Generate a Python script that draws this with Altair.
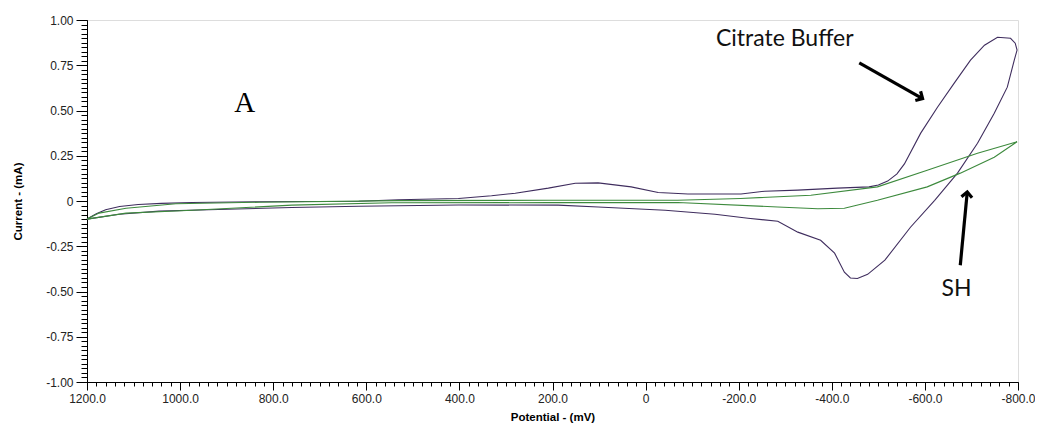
import altair as alt
import pandas as pd

# Citrate Buffer loop (potential mV, current mA), in scan order
cb_mv = [1200, 1180, 1160, 1130, 1090, 1040, 974, 830, 616, 531, 402, 331, 280, 209, 151, 102, 31,
         -27, -91, -205, -256, -327, -412, -480, -500, -520, -540, -556, -591, -627, -663, -698, -728,
         -756, -784, -794, -798, -792, -777, -749, -713, -670, -621, -569, -514, -477, -455,
         -440, -427, -406, -376, -327, -284, -220, -149, -42, 102, 188, 402, 616, 760, 938,
         1045, 1131, 1200]
cb_ma = [-0.100, -0.070, -0.048, -0.030, -0.019, -0.013, -0.008, -0.004, -0.001, 0.007, 0.014, 0.029,
         0.043, 0.071, 0.098, 0.100, 0.078, 0.047, 0.039, 0.039, 0.054, 0.060, 0.071, 0.078, 0.088,
         0.110, 0.150, 0.205, 0.375, 0.518, 0.651, 0.778, 0.861, 0.905, 0.899, 0.872, 0.834, 0.778,
         0.629, 0.485, 0.319, 0.154, 0.004, -0.145, -0.327, -0.405, -0.428, -0.425, -0.393,
         -0.288, -0.217, -0.172, -0.112, -0.095, -0.073, -0.051, -0.033, -0.023, -0.022,
         -0.029, -0.036, -0.048, -0.056, -0.073, -0.100]

# SH loop
sh_mv = [1200, 1174, 1116, 1009, 830, 531, 209, -69, -204, -355, -498, -605, -713, -798,
         -749, -676, -605, -498, -427, -370, -284, -69, 209, 546, 760, 974, 1116, 1200]
sh_ma = [-0.100, -0.067, -0.040, -0.015, -0.007, 0.002, 0.004, 0.004, 0.014, 0.032, 0.078,
         0.170, 0.264, 0.327, 0.242, 0.154, 0.078, 0.004, -0.040, -0.043, -0.033, -0.008,
         -0.009, -0.010, -0.023, -0.051, -0.067, -0.100]

x_major = [1200, 1000, 800, 600, 400, 200, 0, -200, -400, -600, -800]
y_major = [1.0, 0.75, 0.5, 0.25, 0.0, -0.25, -0.5, -0.75, -1.0]
x_minor = [1200 - 20 * i for i in range(101)]
y_minor = [round(-1 + 0.025 * i, 3) for i in range(81)]

# annotations (data coordinates)
labels = ["Citrate Buffer", "SH"]
label_mv = [-299, -668]
label_ma = [0.894, -0.485]
panel_label = ["A"]
panel_mv = [861]
panel_ma = [0.543]
arrow_x1 = [-459, -676]
arrow_y1 = [0.763, -0.355]
arrow_x2 = [-595, -691]
arrow_y2 = [0.566, 0.050]
arrow_angle = [119.7, 5.5]

rows = []
for i, (m, c) in enumerate(zip(cb_mv, cb_ma)):
    rows.append({"series": "Citrate Buffer", "mv": m, "ma": c, "o": i})
for i, (m, c) in enumerate(zip(sh_mv, sh_ma)):
    rows.append({"series": "SH", "mv": m, "ma": c, "o": i})
df = pd.DataFrame(rows)

xscale = alt.Scale(domain=[1200, -800], nice=False, zero=False)
yscale = alt.Scale(domain=[-1, 1], nice=False, zero=False)

FONT = "Liberation Sans"

x_axis = alt.Axis(values=x_major, orient="bottom",
                  labelExpr="datum.value == 0 ? '0' : replace(format(datum.value, '.1f'), '\u2212', '-')",
                  grid=False, tickSize=8, tickColor="#000", domainColor="#000",
                  labelFont=FONT, labelFontSize=12, labelColor="#222", labelPadding=3,
                  labelFlush=False,
                  title="Potential - (mV)", titleFont=FONT, titleFontSize=11.5,
                  titleFontWeight="bold", titleColor="#000", titlePadding=7)
y_axis = alt.Axis(values=y_major, orient="left",
                  labelExpr="datum.value == 0 ? '0' : replace(format(datum.value, '.2f'), '\u2212', '-')",
                  grid=False, tickSize=11, tickColor="#000", domainColor="#000",
                  labelFont=FONT, labelFontSize=12, labelColor="#222", labelPadding=3,
                  labelFlush=False,
                  title="Current - (mA)", titleFont=FONT, titleFontSize=11.5,
                  titleFontWeight="bold", titleColor="#000", titlePadding=22)

lines = alt.Chart(df).mark_line(strokeWidth=1.1, interpolate="linear").encode(
    x=alt.X("mv:Q", scale=xscale, axis=x_axis),
    y=alt.Y("ma:Q", scale=yscale, axis=y_axis),
    order="o:Q",
    detail="series:N",
    color=alt.Color("series:N", scale=alt.Scale(domain=["Citrate Buffer", "SH"],
                                                range=["#3f2d5e", "#3d8a3d"]), legend=None),
)

minor_df = pd.DataFrame({"mv": [x_minor[0]], "ma": [y_minor[0]]})
minor = alt.Chart(minor_df).mark_point(opacity=0).encode(
    x=alt.X("mv:Q", scale=xscale,
            axis=alt.Axis(values=x_minor, orient="bottom", labels=False, domain=False,
                          grid=False, tickSize=4, tickColor="#000", title=None)),
    y=alt.Y("ma:Q", scale=yscale,
            axis=alt.Axis(values=y_minor, orient="left", labels=False, domain=False,
                          grid=False, tickSize=6, tickColor="#000", title=None)),
)

ann_df = pd.DataFrame({"t": labels, "mv": label_mv, "ma": label_ma})
ann = alt.Chart(ann_df).mark_text(font="Lato", fontSize=23, color="#111").encode(
    x=alt.X("mv:Q", scale=xscale, axis=None),
    y=alt.Y("ma:Q", scale=yscale, axis=None),
    text="t:N",
)

a_df = pd.DataFrame({"t": panel_label, "mv": panel_mv, "ma": panel_ma})
a_text = alt.Chart(a_df).mark_text(font="Liberation Serif", fontSize=29, color="#000").encode(
    x=alt.X("mv:Q", scale=xscale, axis=None),
    y=alt.Y("ma:Q", scale=yscale, axis=None),
    text="t:N",
)

arr_df = pd.DataFrame({"x1": arrow_x1, "y1": arrow_y1, "x2": arrow_x2, "y2": arrow_y2,
                       "ang": arrow_angle})
shafts = alt.Chart(arr_df).mark_rule(strokeWidth=3.2, color="#000").encode(
    x=alt.X("x1:Q", scale=xscale, axis=None),
    y=alt.Y("y1:Q", scale=yscale, axis=None),
    x2="x2:Q",
    y2="y2:Q",
)
heads = alt.Chart(arr_df).mark_point(
    shape="M -0.9 0.9 L 0 0 L 0.9 0.9", filled=False, strokeWidth=3.2, color="#000",
    size=140, opacity=1,
).encode(
    x=alt.X("x2:Q", scale=xscale, axis=None),
    y=alt.Y("y2:Q", scale=yscale, axis=None),
    angle=alt.Angle("ang:Q", scale=None),
)

chart = alt.layer(minor, lines, ann, a_text, shafts, heads).resolve_axis(
    x="independent", y="independent"
).properties(
    width=931, height=362,
    autosize=alt.AutoSizeParams(type="none"),
    padding={"left": 79, "top": 12, "right": 17, "bottom": 46},
).configure_view(stroke=None).configure(background="white")

chart.save("out.html", embed_options={"renderer": "svg", "actions": False})
